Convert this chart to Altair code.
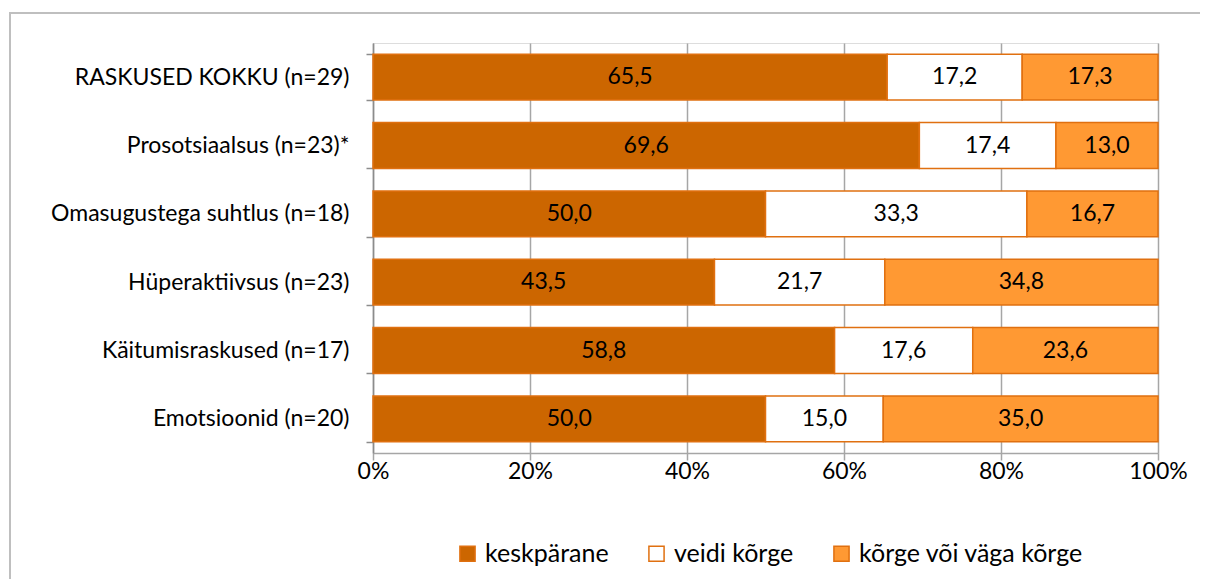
import altair as alt
import pandas as pd

categories = [
    "RASKUSED KOKKU (n=29)",
    "Prosotsiaalsus (n=23)*",
    "Omasugustega suhtlus (n=18)",
    "Hüperaktiivsus (n=23)",
    "Käitumisraskused (n=17)",
    "Emotsioonid (n=20)",
]
series = ["keskpärane", "veidi kõrge", "kõrge või väga kõrge"]
keskparane = [65.5, 69.6, 50.0, 43.5, 58.8, 50.0]
veidi_korge = [17.2, 17.4, 33.3, 21.7, 17.6, 15.0]
korge = [17.3, 13.0, 16.7, 34.8, 23.6, 35.0]
colors = ["#CC6600", "#FFFFFF", "#FF9933"]
x_ticks = [0, 20, 40, 60, 80, 100]

rows = []
for i, c in enumerate(categories):
    for j, (s, vals) in enumerate(zip(series, [keskparane, veidi_korge, korge])):
        rows.append({"cat": c, "series": s, "order": j, "value": vals[i]})
df = pd.DataFrame(rows)

FONT = "Lato"
FS = 23
W, H = 785, 410
PAD_L, PAD_T = 365, 35

y_enc = alt.Y(
    "cat:N",
    sort=categories,
    title=None,
    scale=alt.Scale(paddingInner=0.33, paddingOuter=0.165),
    axis=alt.Axis(
        tickBand="extent",
        tickSize=7,
        tickColor="#8C8C8C",
        domainColor="#8C8C8C",
        domainWidth=1.5,
        tickWidth=1.5,
        labelFont=FONT,
        labelFontSize=FS,
        labelColor="#000000",
        labelPadding=17,
        labelLimit=0,
        grid=False,
    ),
)

base = alt.Chart(df).transform_stack(
    stack="value",
    groupby=["cat"],
    as_=["x0", "x1"],
    sort=[alt.SortField("order", order="ascending")],
).transform_calculate(
    mid="(datum.x0 + datum.x1) / 2",
    label="replace(format(datum.value, '.1f'), '.', ',')",
)

bars = base.mark_bar(stroke="#E07010", strokeWidth=1.5).encode(
    y=y_enc,
    x=alt.X(
        "x0:Q",
        title=None,
        scale=alt.Scale(domain=[0, 100], nice=False),
        axis=alt.Axis(
            values=x_ticks,
            labelExpr="datum.value + '%'",
            grid=True,
            gridColor="#A6A6A6",
            gridWidth=1.5,
            tickSize=7,
            tickColor="#A6A6A6",
            tickWidth=1.5,
            domainColor="#A6A6A6",
            domainWidth=1.5,
            labelFont=FONT,
            labelFontSize=FS,
            labelColor="#000000",
            labelPadding=0,
            labelFlush=False,
        ),
    ),
    x2="x1:Q",
    color=alt.Color(
        "series:N",
        sort=series,
        scale=alt.Scale(domain=series, range=colors),
        legend=alt.Legend(
            title=None,
            orient="none",
            direction="horizontal",
            legendX=82,
            legendY=498,
            symbolType="square",
            symbolSize=230,
            symbolStrokeColor="#E07010",
            symbolStrokeWidth=1.5,
            symbolOpacity=1,
            labelFont=FONT,
            labelFontSize=25,
            labelColor="#000000",
            labelOffset=5,
            labelLimit=0,
            columnPadding=35,
        ),
    ),
    order=alt.Order("order:Q"),
)

texts = base.mark_text(font=FONT, fontSize=FS, color="#000000").encode(
    y=alt.Y("cat:N", sort=categories),
    x=alt.X("mid:Q"),
    text="label:N",
)

border = alt.Chart(pd.DataFrame({"a": [0]})).mark_rect(
    fill=None, stroke="#BFBFBF", strokeWidth=2, clip=False
).encode(
    x=alt.value(10 - 8 - PAD_L),
    x2=alt.value(1210 - 8 - PAD_L),
    y=alt.value(13 - 8 - PAD_T),
    y2=alt.value(640 - 8 - PAD_T),
)

chart = alt.layer(border, bars, texts).properties(
    width=W,
    height=H,
    autosize=alt.AutoSizeParams(type="none"),
    padding={"left": PAD_L, "top": PAD_T, "right": 1208 - 16 - PAD_L - W, "bottom": 160},
).configure_view(stroke=None).configure(background="#FFFFFF")

chart.save("out.html", embed_options={"renderer": "svg", "actions": False})
